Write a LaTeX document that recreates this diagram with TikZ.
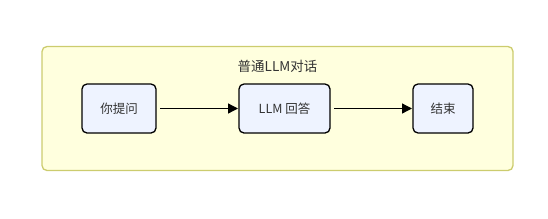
\documentclass[tikz,border=0pt]{standalone}
\usepackage{fontspec}
\setmainfont{Noto Sans CJK SC}
\usepackage{tikz}
\usetikzlibrary{arrows.meta, positioning, fit, backgrounds}
\definecolor{groupfill}{RGB}{255,255,222}
\definecolor{groupline}{RGB}{204,204,110}
\definecolor{stepfill}{RGB}{238,243,255}
\definecolor{textgray}{RGB}{51,51,51}

\begin{document}
\begin{tikzpicture}[
    x=1pt, y=1pt,
    node distance=83pt,
    stepbox/.style={rectangle, rounded corners=5pt, draw=black, line width=1.3pt,
                    fill=stepfill, minimum height=49pt, minimum width=#1, outer sep=0pt,
                    inner sep=0pt, align=center, font=\fontsize{12.5}{15}\selectfont, text=textgray},
    arr/.style={-{Triangle[length=10pt, width=10pt]}, line width=1.3pt, shorten <=4pt, shorten >=1pt},
    group/.style={rectangle, rounded corners=5pt, draw=groupline, line width=1.3pt, fill=groupfill},
]
    \useasboundingbox (0,0) rectangle (548,-218);

    \node[stepbox=74pt] (ask) at (119,-108.5) {你提问};
    \node[stepbox=91pt, right=of ask] (llm) {LLM 回答};
    \node[stepbox=60pt, right=of llm] (done) {结束};

    \draw[arr] (ask) -- (llm);
    \draw[arr] (llm) -- (done);

    % container
    \begin{scope}[on background layer]
        \node[group, fit=(ask)(done), inner xsep=40pt, inner ysep=37.5pt, outer sep=0pt] (conv) {};
    \end{scope}
    \node[below=10pt of conv.north, font=\fontsize{13.5}{15}\selectfont, text=textgray] (title) {普通LLM对话};
\end{tikzpicture}
\end{document}
